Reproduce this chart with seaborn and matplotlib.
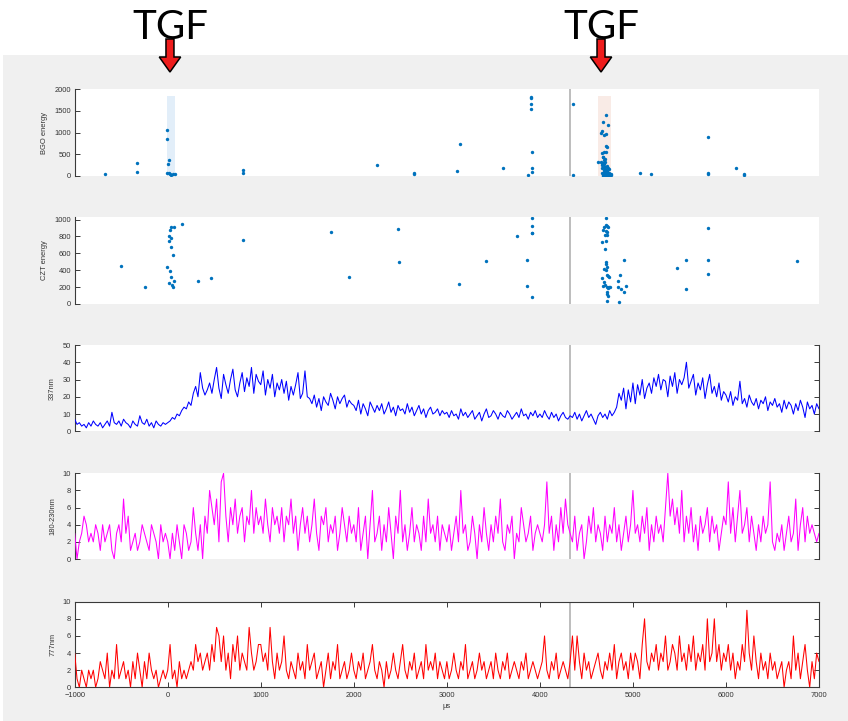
import numpy as np
import pandas as pd
import matplotlib
matplotlib.use("Agg")
import matplotlib.pyplot as plt
import seaborn as sns
from matplotlib.patches import Rectangle, FancyArrow
from matplotlib.transforms import blended_transform_factory

# ---------------- data ----------------
time_grid = np.arange(-1000, 7001, 25)   # μs sampling grid of the light curves

nm337 = [7,4,5,3,4,2,5,3,6,4, 3,5,2,4,6,3,11,5,4,6, 3,7,5,4,2,6,4,3,9,5, 4,7,3,5,2,6,4,3,5,4,
         5,6,8,7,10,9,12,14,13, 17,15,22,26,20,34,25,21, 24,28,22,30,37,25,19,33,27,22,30,36,24,20,28,34,23,31,26,37,22,33,29,
         27,35,21,30,25,33,20,28,24,30,22,29,18,26,21,27, 34,19,22,35,20, 19,16,21,14,19,12,20,17,15,22,18,13,20,16,19,21,14,18,16,
         15,12,18,10,16,13,9,17,14,11, 15,12,16,10,13,17,11,14,9,15, 12,13,10,16,11,14,9,12,15,10, 13,8,12,14,10,11,13,9,12,10,
         11,8,12,9,10,7,13,9,11,8, 10,12,7,9,11,6,10,13,8,9, 12,10,7,11,9,8,12,10,7,9, 11,8,13,9,10,7,11,9,12,8,
         10,8,12,9,7,11,8,10,6,9,11,8,7, 9,8,11,7,10,6,9,12,8,10,7,4,9,11,8,10,7,12,9,11,14, 22,18,25,13,24,17,
         28,16,27,21,30,19,25,28,22,31,26,33,24,30, 29,20,32,26,34,22,30,27,31,40,25,29,33,21,28,24,31,19,27,33,22,26,20,28,18,23,
         21,17,23,15,20,18,29,16,19,14, 21,17,15,19,13,18,16,20,12,17, 15,19,14,16,11,18,13,17,15,10, 16,12,18,14,8,17,13,15,10,16,
         13]

nm180 = [3,0,2,3,5,4,2,3,2,4, 3,1,4,2,3,4,1,0,3,4, 2,7,3,5,1,2,3,1,2,4, 3,2,1,4,3,2,0,4,2,3,
         2,0,3,1,4,2,0,4,3,1,2,6,3,1,4,0, 5,3,8,6,4,7,2,9, 10,5,2,6,4,7,3,5,6,2,5,4,8,3,6,4,
         5,3,7,4,2,6,4,5,3,6, 2,5,4,7,3,5,1,4,6,3, 5,2,4,7,3,1,5,4,6,2, 4,3,5,1,3,6,4,2,5,3,
         4,2,6,1,3,5,0,4,8,2, 3,5,1,4,2,6,3,0,5,3, 8,2,4,1,3,6,2,4,3,1, 5,2,7,3,4,2,5,1,4,3,
         2,4,1,3,5,2,8,3,4,1, 2,5,3,0,4,2,6,3,1,4, 2,5,3,7,2,1,4,3,5,0, 3,2,6,4,2,3,5,1,3,4,
         3,2,4,9,3,5,1,4,2,6, 3,7,4,3,2,5,1,3,4,0, 2,5,3,6,2,4,3,1,5,2, 4,3,6,2,4,1,3,5,2,4,
         8,3,4,2,5,3,6,1,4,2, 5,3,4,2,6,10,5,7,4,6, 3,8,2,5,3,6,2,4,1,5, 3,4,6,2,5,3,4,1,3,5,
         4,9,3,6,2,5,8,3,4,6, 2,5,3,1,4,2,5,3,4,9, 2,1,3,2,4,1,3,5,2,3, 7,1,4,6,2,5,3,4,3,2,
         3]

nm777 = [4,1,0,2,1,0,2,1,2,0, 1,3,2,1,4,0,2,1,5,1, 2,3,1,2,0,3,1,4,2,0, 3,1,4,2,1,2,0,1,2,1,
         2,5,1,2,0,3,1,2,1,2,3,2, 5,3,4,2,3,4,2,5,3,7,6,3,6,2,4,1,5, 3,6,2,4,3,2,7,4,2,3,5,
         5,3,4,2,7,3,1,4,2,3, 6,2,1,3,2,1,4,2,3,1, 5,2,3,4,1,2,3,0,2,4, 1,3,2,5,1,2,3,1,2,4,
         2,1,3,2,4,1,2,3,5,2, 1,3,2,0,3,1,2,4,2,1, 3,5,2,1,3,2,4,1,2,3, 1,5,2,3,2,4,1,3,2,1,
         3,1,2,4,2,1,3,2,5,1, 2,3,1,2,4,2,3,1,2,3, 1,4,2,1,3,2,4,1,2,3, 2,1,3,2,4,1,2,3,2,1,
         2,3,6,2,1,3,2,4,1,2, 3,2,1,3,6,2,6,3,1,4, 2,3,1,2,3,4,2,1,3,2, 4,2,5,1,3,4,2,3,1,4,
         2,4,3,1,5,8,3,2,4,3, 5,2,4,3,6,2,3,5,4,2, 6,3,4,2,5,3,6,2,4,3, 5,2,8,3,4,8,3,5,2,4,
         3,5,2,4,1,3,2,5,3,9, 4,2,6,3,1,4,2,3,1,4, 2,3,1,2,3,0,2,3,1,6, 2,4,1,3,5,2,0,3,1,4,
         3]

bgo_time = [-677,-326,-326,-11,-11,0,18,-11,10,25,36,53,79,806,806,2250,2651,2651,
            3112,3137,3603,3875,3908,3908,3908,3908,3911,3911,3911,4352,4352,
            4714,4732,4682,4671,4653,4689,4707,4707,4718,4689,4707,4678,4696,4624,4671,
            4660,4664,4668,4672,4676,4680,4684,4688,4692,4696,4700,4704,4708,4712,4716,4720,4724,4728,4732,4736,4740,
            4745,4750,4756,4762,4768,4666,4674,4686,4694,4702,4710,4722,4738,4680,4698,
            5072,5190,5803,5803,5803,6104,6194,6194]
bgo_energy = [46,306,92,1057,850,268,368,61,61,46,23,46,46,77,138,245,77,38,
              107,735,176,31,1823,1785,1647,1532,551,176,84,1662,31,
              1394,1180,1249,1034,981,942,965,697,674,559,559,444,383,314,291,
              330,250,180,60,20,290,140,210,100,40,320,170,70,15,240,120,30,190,60,10,150,
              80,45,25,35,20,520,430,360,270,200,130,90,55,5,8,
              61,46,904,77,46,191,46,23]

czt_time = [-502,-248,-11,18,25,36,43,53,71,61,39,18,18,32,25,36,71,157,329,465,813,1755,1949,2472,2490,
            3130,3417,3750,3865,3865,3911,3911,3911,3911,3918,
            4707,4707,4725,4689,4735,4682,4707,4725,4700,4717,4671,4707,4700,4707,4707,4717,4689,4707,4717,4732,
            4746,4671,4689,4682,4700,4717,4732,4746,4753,4725,4717,4732,4725,
            4843,4861,4843,4868,4904,4925,4907,4846,5474,5574,5567,5803,5803,5803,6763]
czt_energy = [453,197,437,248,394,315,224,197,276,579,673,744,803,783,882,909,913,949,276,303,752,854,319,886,492,
              232,508,803,516,217,1024,921,843,835,87,
              1016,933,921,913,913,874,866,854,815,815,736,744,650,492,472,441,413,401,343,331,
              315,303,256,217,224,205,185,197,205,146,114,94,39,
              276,343,197,173,138,217,520,28,429,516,173,898,520,350,504]

tgf_times = [24, 4657]
tgf_windows = [(-5, 80), (4621, 4764)]
window_top = 1830
marker_time = 4320

panel_labels = ["BGO energy", "CZT energy", "337nm", "180-230nm", "777nm"]
xticks = [-1000, 0, 1000, 2000, 3000, 4000, 5000, 6000, 7000]

# ---------------- figure ----------------
sns.set_style("white")
plt.rcParams["font.family"] = ["Liberation Sans", "DejaVu Sans"]

W, H = 848, 721
fig = plt.figure(figsize=(W / 100, H / 100), dpi=100)
fig.patch.set_facecolor("white")
fig.add_artist(Rectangle((3 / W, 0), 1, 1 - 55 / H, transform=fig.transFigure,
                         facecolor="#f0f0f0", edgecolor="none", zorder=-10))

left_px, right_px = 74.7, 819.0
panels_px = [(89, 176), (217, 304), (345, 431.3), (473.3, 559), (601.7, 687.3)]
axes = []
for top, bot in panels_px:
    ax = fig.add_axes([left_px / W, 1 - bot / H, (right_px - left_px) / W, (bot - top) / H])
    ax.set_facecolor("white")
    axes.append(ax)

tick_col = "#333333"
spine_col = "#3a3a3a"
fs = 5.4

scatter_col = "#0072BD"
df_bgo = pd.DataFrame({"t": bgo_time, "e": bgo_energy})
df_czt = pd.DataFrame({"t": czt_time, "e": czt_energy})
sns.scatterplot(data=df_bgo, x="t", y="e", ax=axes[0], color=scatter_col, s=6, linewidth=0, zorder=3)
sns.scatterplot(data=df_czt, x="t", y="e", ax=axes[1], color=scatter_col, s=6, linewidth=0, zorder=3)

span_cols = ["#e2eef9", "#f9ebe6"]
for (a, b), c in zip(tgf_windows, span_cols):
    axes[0].fill_between([a, b], 0, window_top, color=c, linewidth=0, zorder=1)

series = [nm337, nm180, nm777]
line_cols = ["#0000ff", "#ff00ff", "#ff0000"]
for ax, vals, c in zip(axes[2:], series, line_cols):
    d = pd.DataFrame({"t": time_grid, "v": vals})
    sns.lineplot(data=d, x="t", y="v", ax=ax, color=c, lw=0.75, estimator=None, sort=False, zorder=3)

ylims = [(0, 2000), (0, 1030), (0, 50), (0, 10), (0, 10)]
yticks = [[0, 500, 1000, 1500, 2000], [0, 200, 400, 600, 800, 1000],
          [0, 10, 20, 30, 40, 50], [0, 2, 4, 6, 8, 10], [0, 2, 4, 6, 8, 10]]
label_x = [-0.0363, -0.0363, -0.0249, -0.0249, -0.0249]

for i, ax in enumerate(axes):
    ax.set_xlim(-1000, 7000)
    ax.set_ylim(*ylims[i])
    ax.set_yticks(yticks[i])
    ax.axvline(marker_time, color="#b8b8b8", lw=1.3, zorder=2)
    ax.set_ylabel(panel_labels[i], fontsize=fs, color=tick_col)
    ax.yaxis.set_label_coords(label_x[i], 0.5)
    ax.set_xlabel("")
    for s in ax.spines.values():
        s.set_color(spine_col)
        s.set_linewidth(0.8)
    ax.tick_params(axis="both", direction="in", length=3.5, width=0.7, color=spine_col,
                   labelsize=fs, labelcolor=tick_col, pad=2.5)
    if i < 2:
        for s in ["top", "right", "bottom"]:
            ax.spines[s].set_visible(False)
        ax.tick_params(axis="x", bottom=False, labelbottom=False)
        ax.tick_params(axis="y", left=True, right=False)
    elif i < 4:
        for s in ["top", "bottom"]:
            ax.spines[s].set_visible(False)
        ax.tick_params(axis="x", bottom=False, labelbottom=False)
        ax.tick_params(axis="y", left=True, right=True, labelright=False)
    else:
        ax.set_xticks(xticks)
        ax.tick_params(axis="x", bottom=True, top=True, labeltop=False, pad=3.5)
        ax.tick_params(axis="y", left=True, right=True, labelright=False)
        ax.set_xlabel("μs", fontsize=fs, color=tick_col, labelpad=2.5)

# TGF labels and arrows
tr = blended_transform_factory(axes[0].transData, fig.transFigure)
for t in tgf_times:
    fig.text(t, 1 - 39 / H, "TGF", transform=tr, ha="center", va="baseline",
             fontsize=29, family=["Lato", "DejaVu Sans"], color="black")
    arr = FancyArrow(t, 1 - 39 / H, 0, -(72 - 39) / H, width=86, head_width=230,
                     head_length=15 / H, length_includes_head=True, transform=tr,
                     facecolor="#ee1c1c", edgecolor="black", linewidth=1.1, zorder=5)
    fig.add_artist(arr)

fig.savefig("out.png", dpi=100, facecolor=fig.get_facecolor())
